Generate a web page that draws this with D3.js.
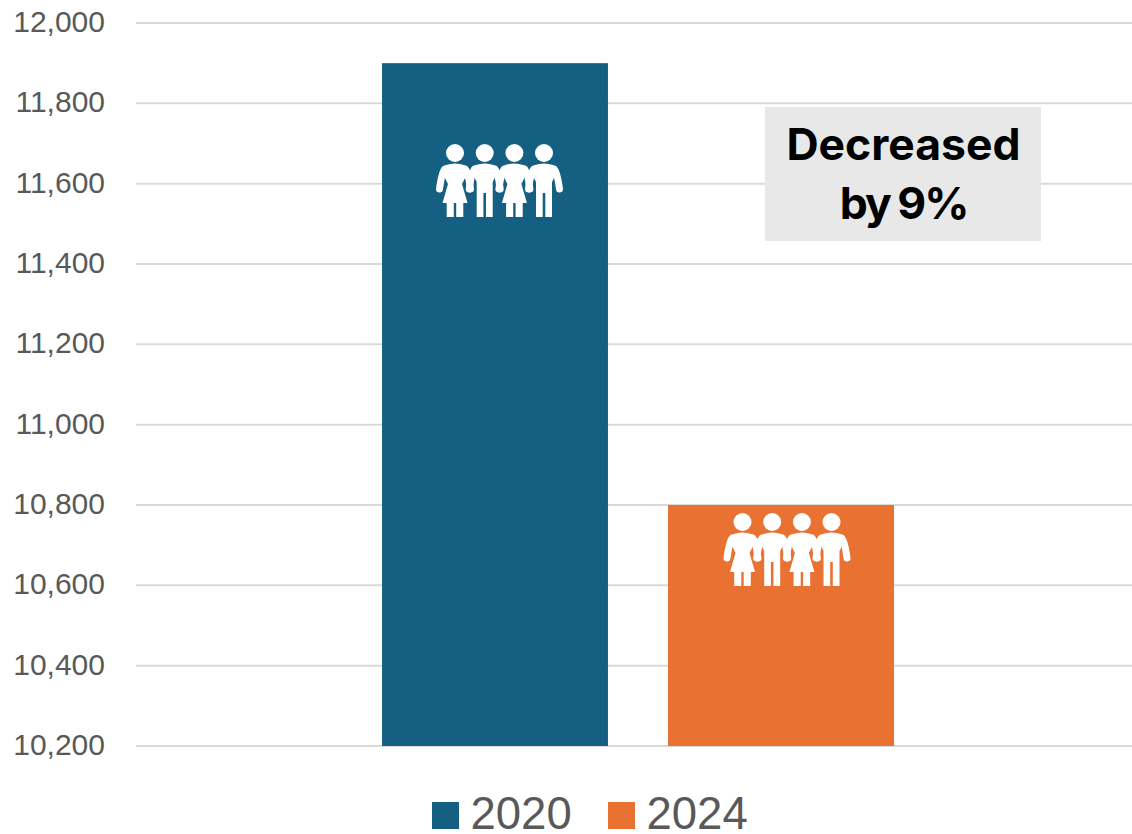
<!DOCTYPE html>
<html>
<head>
<meta charset="utf-8">
<script src="https://cdnjs.cloudflare.com/ajax/libs/d3/7.8.5/d3.min.js"></script>
<style>
html, body { margin: 0; padding: 0; background: #fff; }
text { font-family: "Liberation Sans", sans-serif; }
</style>
</head>
<body>
<div id="chart"></div>
<script>
const years = ["2020", "2024"];
const totals = [11900, 10800];
const barColors = ["#156082", "#E97132"];
const yTicks = [10200, 10400, 10600, 10800, 11000, 11200, 11400, 11600, 11800, 12000];
const noteLines = ["Decreased", "by 9%"];

const width = 1132, height = 834;

const svg = d3.select("#chart").append("svg")
    .attr("width", width)
    .attr("height", height)
    .style("display", "block");

const y = d3.scaleLinear().domain([10200, 12000]).range([746, 23]);
const x = d3.scaleBand().domain(years).range([352, 924]).paddingInner(0.21).paddingOuter(0.105);

// gridlines + tick labels
const yAxis = d3.axisLeft(y).tickValues(yTicks).tickSize(0).tickPadding(0).tickFormat(d3.format(","));
const yG = svg.append("g").attr("transform", "translate(105,-1)").call(yAxis);
yG.select(".domain").remove();
yG.selectAll("text").attr("fill", "#595959").style("font-size", "30px").style("font-family", '"Liberation Sans", sans-serif');

svg.append("g").selectAll("line")
    .data(yTicks)
    .enter().append("line")
    .attr("x1", 136)
    .attr("x2", 1132)
    .attr("y1", d => y(d))
    .attr("y2", d => y(d))
    .attr("stroke", "#D9D9D9")
    .attr("stroke-width", 2);

svg.append("g").selectAll("rect")
    .data(years)
    .enter().append("rect")
    .attr("x", d => x(d))
    .attr("y", (d, i) => y(totals[i]))
    .attr("width", x.bandwidth())
    .attr("height", (d, i) => y(10200) - y(totals[i]))
    .attr("fill", (d, i) => barColors[i]);

// little people icon, girl/boy alternating
function drawPerson(g, cx, girl) {
    const p = g.append("g").attr("transform", `translate(${cx},0)`).attr("fill", "#fff");
    p.append("circle").attr("cx", 0).attr("cy", 9).attr("r", 9);
    // arms
    p.append("path")
        .attr("d", "M-10,25 Q-13,27 -15.5,45 M10,25 Q13,27 15.5,45")
        .attr("fill", "none")
        .attr("stroke", "#fff")
        .attr("stroke-width", 7)
        .attr("stroke-linecap", "round");
    if (girl) {
        p.append("path").attr("d", "M-9,21 Q0,18 9,21 L13,28 L7,40 L12.5,59 L8.3,59 L8.3,73 L1.2,73 L1.2,59 L-1.2,59 L-1.2,73 L-8.3,73 L-8.3,59 L-12.5,59 L-7,40 L-13,28 Z");
    } else {
        p.append("path").attr("d", "M-9,21 Q0,18 9,21 L13,28 L8,38 L8,73 L1.3,73 L1.3,49 L-1.3,49 L-1.3,73 L-8,73 L-8,38 L-13,28 Z");
    }
}

function drawFamily(year, top, shift) {
    const g = svg.append("g").attr("transform", `translate(${x(year) + x.bandwidth() / 2 - 40 + shift},${top})`);
    [0, 29.7, 59.4, 89].forEach((dx, i) => drawPerson(g, dx, i % 2 === 0));
}
drawFamily("2020", 144, 0);
drawFamily("2024", 513, 1.5);

// note box
svg.append("rect")
    .attr("x", 765)
    .attr("y", 107)
    .attr("width", 276)
    .attr("height", 134)
    .attr("fill", "#E8E8E8");

svg.append("g").selectAll("text")
    .data(noteLines)
    .enter().append("text")
    .attr("x", 903.5)
    .attr("y", (d, i) => 160 + i * 58.5)
    .attr("text-anchor", "middle")
    .attr("fill", "#000")
    .style("font-family", '"Inter", "Liberation Sans", sans-serif')
    .style("font-size", "44.5px")
    .style("font-weight", 700)
    .style("word-spacing", (d, i) => i === 1 ? "-1px" : null)
    .style("letter-spacing", (d, i) => i === 1 ? "-2px" : null)
    .text(d => d);

// legend
const legendX = [432, 608];
years.forEach((yr, i) => {
    svg.append("rect")
        .attr("x", legendX[i])
        .attr("y", 802)
        .attr("width", 27)
        .attr("height", 27)
        .attr("fill", barColors[i]);
    svg.append("text")
        .attr("x", legendX[i] + 38.5)
        .attr("y", 829)
        .attr("fill", "#595959")
        .style("font-size", "45.5px")
        .text(yr);
});
</script>
</body>
</html>
